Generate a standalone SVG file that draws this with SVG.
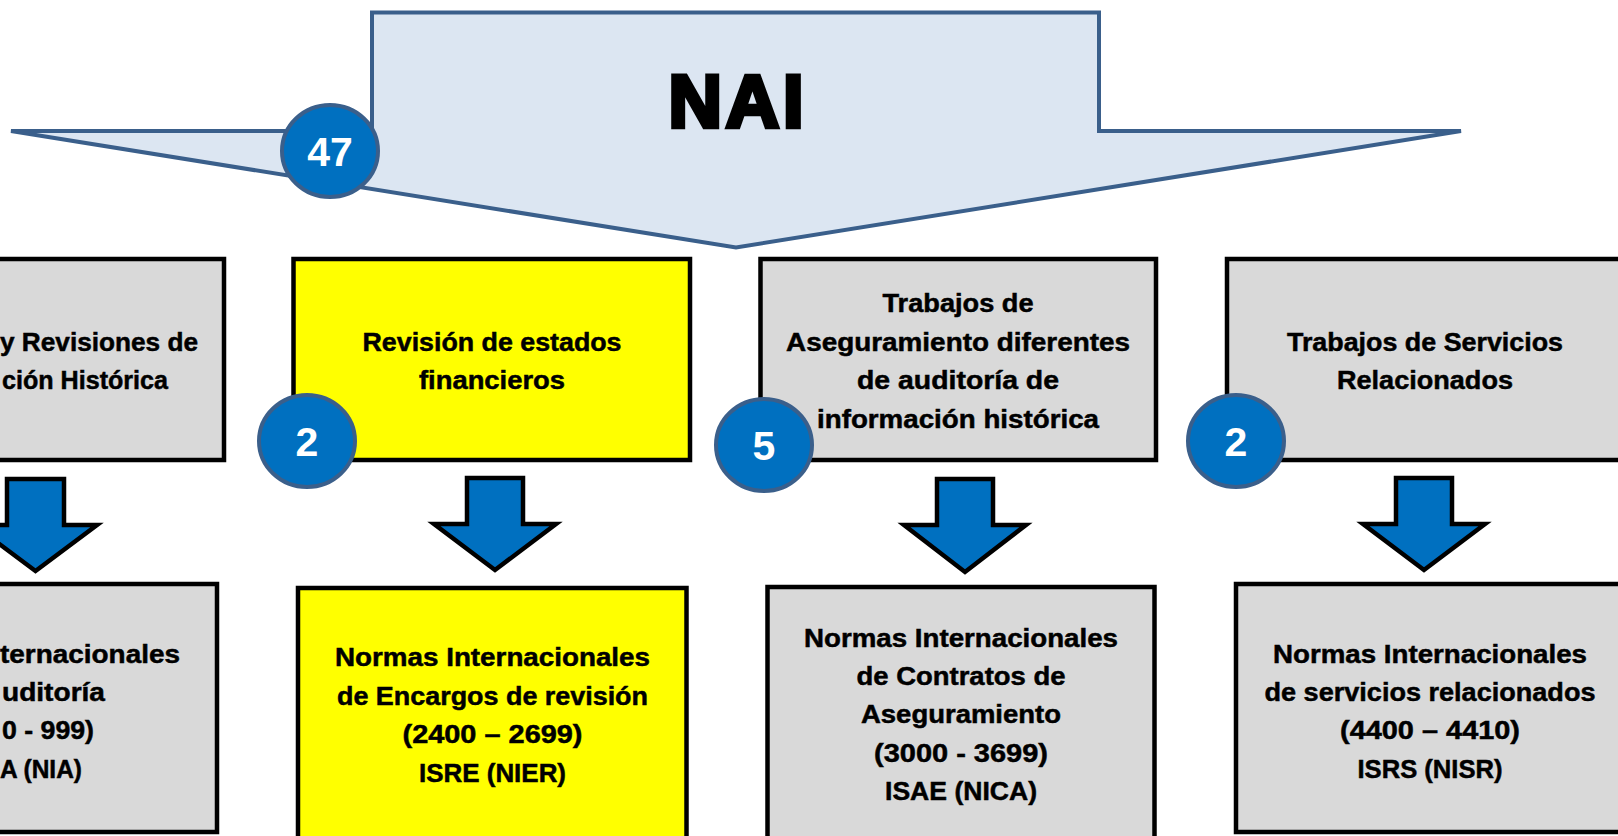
<svg xmlns="http://www.w3.org/2000/svg" width="1618" height="836" viewBox="0 0 1618 836">
  <defs>
    <style>
      .box { stroke: #000000; stroke-width: 4.5; }
      .gray { fill: #d9d9d9; }
      .yellow { fill: #ffff00; }
      .t { font-family: "Liberation Sans", Arial, sans-serif; font-weight: bold; font-size: 26px; fill: #000000; stroke: #000000; stroke-width: 0.5; }
      .c { text-anchor: middle; }
      .e { text-anchor: end; }
      .arrow { fill: #0070c0; stroke: #000000; stroke-width: 4.5; stroke-linejoin: miter; }
      .badge { fill: #0070c0; stroke: #3a5f8b; stroke-width: 4; }
      .bt { font-family: "Liberation Sans", Arial, sans-serif; font-weight: bold; font-size: 41px; fill: #ffffff; text-anchor: middle; }
    </style>
  </defs>
  <rect x="0" y="0" width="1618" height="836" fill="#ffffff"/>

  <g id="nai">
    <polygon points="372,12.5 1099,12.5 1099,131 1461,131 736,247.5 11,131 372,131" fill="#dce6f2" stroke="#3a5f8b" stroke-width="4" stroke-linejoin="miter"/>
    <text x="736" y="127" text-anchor="middle" font-family="'Liberation Sans', Arial, sans-serif" font-weight="bold" font-size="74" fill="#000" stroke="#000" stroke-width="4.5" stroke-linejoin="miter" textLength="135" lengthAdjust="spacing">NAI</text>
  </g>

  <g id="connectors">
    <polygon class="arrow" points="7,479 64,479 64,525 97,525 35.5,571 -26,525 7,525"/>
    <polygon class="arrow" points="467,478 523,478 523,524 556,524 495,570 434,524 467,524"/>
    <polygon class="arrow" points="937,479 993,479 993,525 1026,525 965,572 904,525 937,525"/>
    <polygon class="arrow" points="1396,478 1452,478 1452,524 1485,524 1424,570 1363,524 1396,524"/>
  </g>

  <g id="box-auditorias">
    <rect class="box gray" x="-180" y="259" width="404" height="201"/>
    <text class="t e" x="198" y="351" textLength="198" lengthAdjust="spacingAndGlyphs">y Revisiones de</text>
    <text class="t e" x="168" y="389" textLength="166" lengthAdjust="spacingAndGlyphs">ción Histórica</text>
  </g>

  <g id="box-revision">
    <rect class="box yellow" x="293.5" y="259" width="396.5" height="201"/>
    <text class="t c" x="492" y="351" textLength="259" lengthAdjust="spacingAndGlyphs">Revisión de estados</text>
    <text class="t c" x="492" y="389" textLength="146" lengthAdjust="spacingAndGlyphs">financieros</text>
  </g>

  <g id="box-aseguramiento">
    <rect class="box gray" x="760.5" y="259" width="395.5" height="201"/>
    <text class="t c" x="958" y="312" textLength="151" lengthAdjust="spacingAndGlyphs">Trabajos de</text>
    <text class="t c" x="958" y="351" textLength="344" lengthAdjust="spacingAndGlyphs">Aseguramiento diferentes</text>
    <text class="t c" x="958" y="389" textLength="202" lengthAdjust="spacingAndGlyphs">de auditoría de</text>
    <text class="t c" x="958" y="428" textLength="282" lengthAdjust="spacingAndGlyphs">información histórica</text>
  </g>

  <g id="box-servicios">
    <rect class="box gray" x="1227" y="259" width="403" height="201"/>
    <text class="t c" x="1425" y="351" textLength="276" lengthAdjust="spacingAndGlyphs">Trabajos de Servicios</text>
    <text class="t c" x="1425" y="389" textLength="176" lengthAdjust="spacingAndGlyphs">Relacionados</text>
  </g>

  <g id="box-nia">
    <rect class="box gray" x="-180" y="584" width="397" height="248"/>
    <text class="t e" x="180" y="663" textLength="180" lengthAdjust="spacingAndGlyphs">ternacionales</text>
    <text class="t e" x="105" y="701" textLength="103" lengthAdjust="spacingAndGlyphs">uditoría</text>
    <text class="t e" x="94" y="739" textLength="92" lengthAdjust="spacingAndGlyphs">0 - 999)</text>
    <text class="t e" x="82" y="778" textLength="82" lengthAdjust="spacingAndGlyphs">A (NIA)</text>
  </g>

  <g id="box-nier">
    <rect class="box yellow" x="298" y="588" width="388.5" height="272"/>
    <text class="t c" x="492.5" y="666" textLength="315" lengthAdjust="spacingAndGlyphs">Normas Internacionales</text>
    <text class="t c" x="492.5" y="705" textLength="311" lengthAdjust="spacingAndGlyphs">de Encargos de revisión</text>
    <text class="t c" x="492.5" y="743" textLength="180" lengthAdjust="spacingAndGlyphs">(2400 – 2699)</text>
    <text class="t c" x="492.5" y="782" textLength="147" lengthAdjust="spacingAndGlyphs">ISRE (NIER)</text>
  </g>

  <g id="box-nica">
    <rect class="box gray" x="767.5" y="587" width="387" height="273"/>
    <text class="t c" x="961" y="647" textLength="314" lengthAdjust="spacingAndGlyphs">Normas Internacionales</text>
    <text class="t c" x="961" y="685" textLength="209" lengthAdjust="spacingAndGlyphs">de Contratos de</text>
    <text class="t c" x="961" y="723" textLength="200" lengthAdjust="spacingAndGlyphs">Aseguramiento</text>
    <text class="t c" x="961" y="762" textLength="174" lengthAdjust="spacingAndGlyphs">(3000 - 3699)</text>
    <text class="t c" x="961" y="800" textLength="152" lengthAdjust="spacingAndGlyphs">ISAE (NICA)</text>
  </g>

  <g id="box-nisr">
    <rect class="box gray" x="1236" y="584" width="394" height="248"/>
    <text class="t c" x="1430" y="663" textLength="314" lengthAdjust="spacingAndGlyphs">Normas Internacionales</text>
    <text class="t c" x="1430" y="701" textLength="331" lengthAdjust="spacingAndGlyphs">de servicios relacionados</text>
    <text class="t c" x="1430" y="739" textLength="180" lengthAdjust="spacingAndGlyphs">(4400 – 4410)</text>
    <text class="t c" x="1430" y="778" textLength="145" lengthAdjust="spacingAndGlyphs">ISRS (NISR)</text>
  </g>

  <g id="badge-47">
    <ellipse class="badge" cx="330" cy="151" rx="48" ry="46"/>
    <text class="bt" x="330" y="166">47</text>
  </g>
  <g id="badge-2a">
    <ellipse class="badge" cx="307" cy="441" rx="48" ry="46"/>
    <text class="bt" x="307" y="456">2</text>
  </g>
  <g id="badge-5">
    <ellipse class="badge" cx="764" cy="445" rx="48" ry="46"/>
    <text class="bt" x="764" y="460">5</text>
  </g>
  <g id="badge-2b">
    <ellipse class="badge" cx="1236" cy="441" rx="48" ry="46"/>
    <text class="bt" x="1236" y="456">2</text>
  </g>
</svg>
